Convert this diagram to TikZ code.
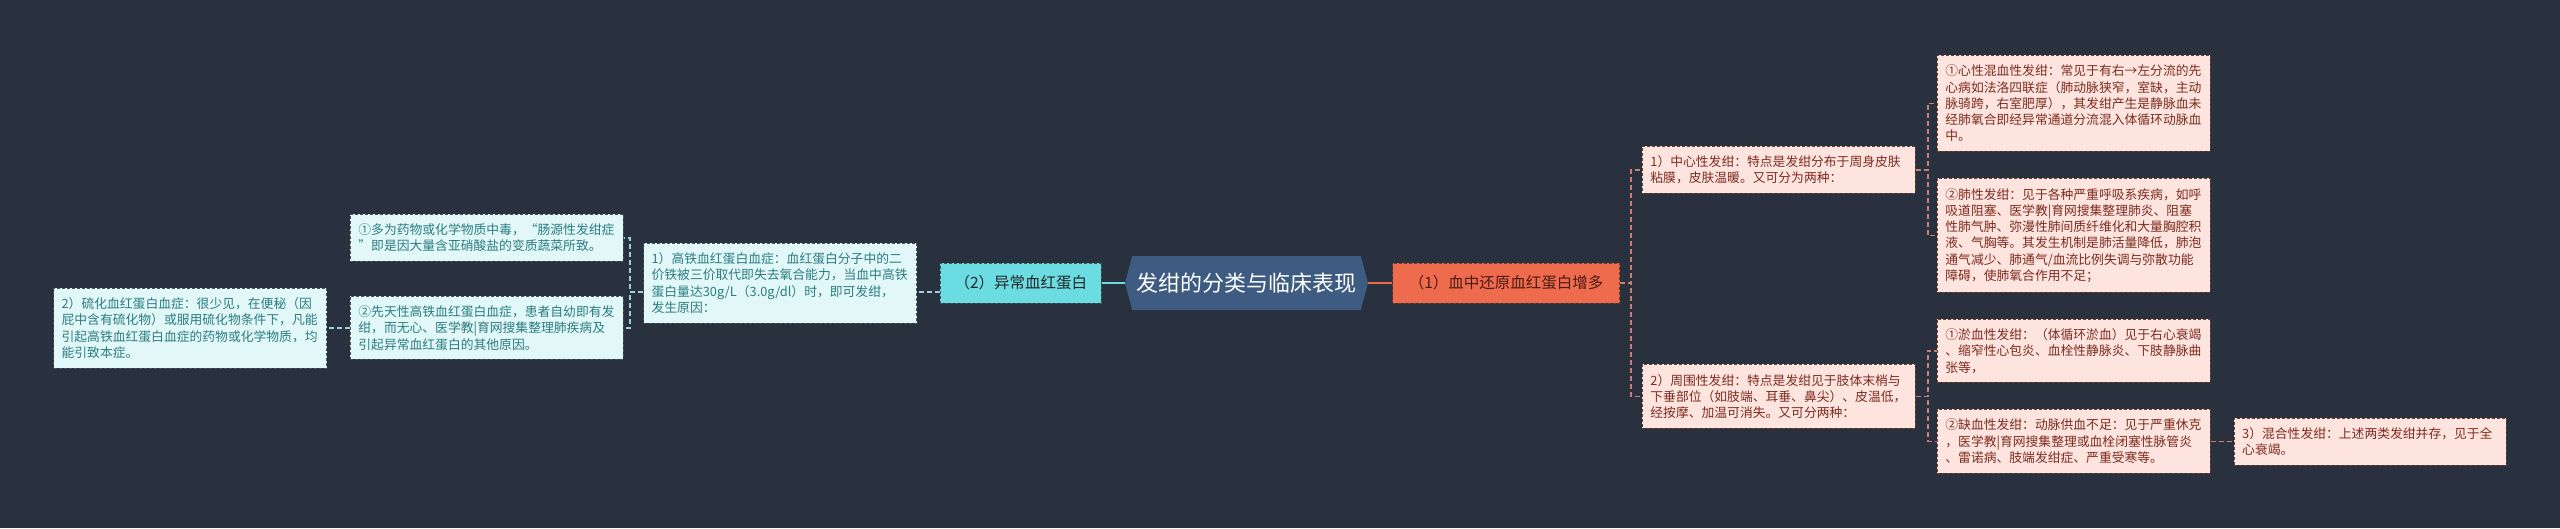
\documentclass[tikz,border=0pt]{standalone}
\usepackage{fontspec}
\setmainfont{Noto Sans CJK SC}
\usetikzlibrary{positioning,shapes.symbols}
\definecolor{bund}{HTML}{29313F}
\definecolor{rodfarve}{HTML}{3E5B82}
\definecolor{cyan1}{HTML}{6ADCE2}
\definecolor{lysbla}{HTML}{E2F7F8}
\definecolor{kantv}{HTML}{3E5659}
\definecolor{tekstv}{HTML}{2A7D82}
\definecolor{linjev}{HTML}{9AD3D7}
\definecolor{orange1}{HTML}{EE6B4D}
\definecolor{lysrod}{HTML}{FDE4DE}
\definecolor{kanth}{HTML}{6B3C32}
\definecolor{teksth}{HTML}{7D2C20}
\definecolor{linjeh}{HTML}{C98070}
\tikzset{
    rod/.style={
           shape=signal, signal to=west and east,
           signal pointer angle=150,
           fill=rodfarve, text=white,
           minimum width=243pt, minimum height=54pt,
           inner sep=0pt,
           font=\fontsize{22pt}{24pt}\selectfont},
    gren/.style={
           draw, dash pattern=on 3pt off 2pt, line width=0.8pt,
           minimum height=40pt, inner sep=0pt,
           font=\fontsize{15.5pt}{18pt}\selectfont},
    blad/.style={
           draw, dash pattern=on 3pt off 2pt, line width=0.8pt,
           anchor=north west,
           text width=257pt, inner xsep=8pt, inner ysep=0pt,
           align=left,
           font=\fontsize{12.8pt}{16.3pt}\selectfont},
    bladv/.style={blad, fill=lysbla, draw=kantv, text=tekstv},
    bladh/.style={blad, fill=lysrod, draw=kanth, text=teksth},
    stamv/.style={draw=cyan1, line width=2pt},
    stamh/.style={draw=orange1, line width=2pt},
    pilv/.style={draw=linjev, line width=1.5pt, dash pattern=on 5pt off 3pt},
    pilh/.style={draw=linjeh, line width=1.5pt, dash pattern=on 5pt off 3pt}
}
\begin{document}
\begin{tikzpicture}[x=1pt, y=-1pt]
        \fill[bund] (0,0) rectangle (2560,528);

        \node[rod] (rod) at (1246.5,283) {发绀的分类与临床表现};
        \node[gren, fill=cyan1, draw=kantv, text=black!85, minimum width=161pt, left=23pt of rod] (ya) {（2）异常血红蛋白};
        \node[gren, fill=orange1, draw=kanth, text=black!40!teksth, minimum width=227pt, right=24pt of rod] (xz) {（1）血中还原血红蛋白增多};

        % venstre side
        \node[bladv, minimum height=80pt, left=23pt of ya] (b1) {1）高铁血红蛋白血症：血红蛋白分子中的二\\价铁被三价取代即失去氧合能力，当血中高铁\\蛋白量达30g/L（3.0g/dl）时，即可发绀，\\发生原因：};
        \node[bladv, minimum height=47pt] (a1) at (350,214) {①多为药物或化学物质中毒，“肠源性发绀症\\”即是因大量含亚硝酸盐的变质蔬菜所致。};
        \node[bladv, minimum height=63pt] (a2) at (350,296) {②先天性高铁血红蛋白血症，患者自幼即有发\\绀，而无心、医学教|育网搜集整理肺疾病及\\引起异常血红蛋白的其他原因。};
        \node[bladv, minimum height=80pt, left=23pt of a2] (l2) {2）硫化血红蛋白血症：很少见，在便秘（因\\屁中含有硫化物）或服用硫化物条件下，凡能\\引起高铁血红蛋白血症的药物或化学物质，均\\能引致本症。};

        % hoejre side
        \node[bladh, minimum height=47pt] (c1) at (1642,146) {1）中心性发绀：特点是发绀分布于周身皮肤\\粘膜，皮肤温暖。又可分为两种：};
        \node[bladh, minimum height=64pt] (c2) at (1642,364) {2）周围性发绀：特点是发绀见于肢体末梢与\\下垂部位（如肢端、耳垂、鼻尖）、皮温低，\\经按摩、加温可消失。又可分两种：};
        \node[bladh, minimum height=96pt] (d1) at (1937,55) {①心性混血性发绀：常见于有右→左分流的先\\心病如法洛四联症（肺动脉狭窄，室缺，主动\\脉骑跨，右室肥厚），其发绀产生是静脉血未\\经肺氧合即经异常通道分流混入体循环动脉血\\中。};
        \node[bladh, minimum height=114pt] (d2) at (1937,178) {②肺性发绀：见于各种严重呼吸系疾病，如呼\\吸道阻塞、医学教|育网搜集整理肺炎、阻塞\\性肺气肿、弥漫性肺间质纤维化和大量胸腔积\\液、气胸等。其发生机制是肺活量降低，肺泡\\通气减少、肺通气/血流比例失调与弥散功能\\障碍，使肺氧合作用不足；};
        \node[bladh, minimum height=63pt] (d3) at (1937,319) {①淤血性发绀：（体循环淤血）见于右心衰竭\\、缩窄性心包炎、血栓性静脉炎、下肢静脉曲\\张等，};
        \node[bladh, minimum height=64pt] (d4) at (1937,409) {②缺血性发绀：动脉供血不足：见于严重休克\\，医学教|育网搜集整理或血栓闭塞性脉管炎\\、雷诺病、肢端发绀症、严重受寒等。};
        \node[bladh, minimum height=47pt, text width=256pt, right=23pt of d4] (e1) {3）混合性发绀：上述两类发绀并存，见于全\\心衰竭。};

        \draw[stamv] (rod.west) -- (ya.east);
        \draw[stamh] (rod.east) -- (xz.west);

        \draw[pilv] ([yshift=-9pt]ya.west) -- ([yshift=-9pt]b1.east);
        \draw[pilv] ([yshift=-9pt]b1.west) -- ++(-13,0) |- (a1.east);
        \draw[pilv] ([yshift=-9pt]b1.west) -- ++(-13,0) |- (a2.east);
        \draw[pilv] (a2.west) -- (l2.east);

        \draw[pilh] (xz.east) -- ++(11,0) |- (c1.west);
        \draw[pilh] (xz.east) -- ++(11,0) |- (c2.west);
        \draw[pilh] (c1.east) -- ++(12,0) |- (d1.west);
        \draw[pilh] (c1.east) -- ++(12,0) |- (d2.west);
        \draw[pilh] (c2.east) -- ++(12,0) |- (d3.west);
        \draw[pilh] (c2.east) -- ++(12,0) |- (d4.west);
        \draw[pilh] (d4.east) -- (e1.west);
\end{tikzpicture}
\end{document}
